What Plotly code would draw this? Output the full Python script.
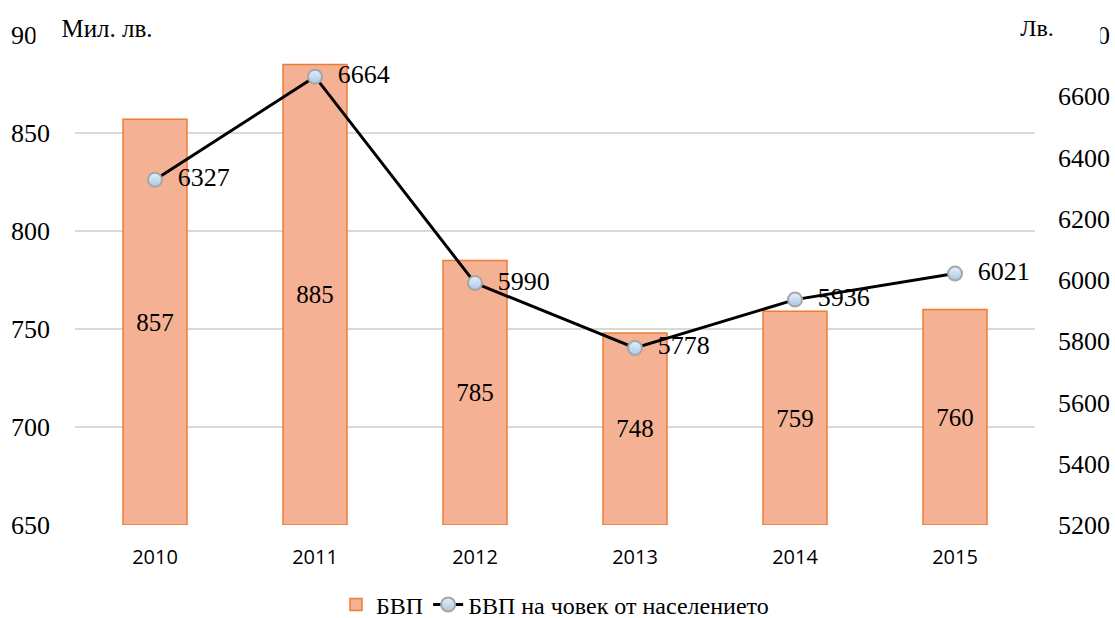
import plotly.graph_objects as go

years = ["2010", "2011", "2012", "2013", "2014", "2015"]
gdp = [857, 885, 785, 748, 759, 760]
gdp_per_capita = [6327, 6664, 5990, 5778, 5936, 6021]
left_ticks = [650, 700, 750, 800, 850, 900]
right_ticks = [5200, 5400, 5600, 5800, 6000, 6200, 6400, 6600, 6800]

serif = "Liberation Serif, Times New Roman, serif"
axis_base = left_ticks[0]

fig = go.Figure()
fig.add_trace(go.Bar(
    x=years, y=[v - axis_base for v in gdp], base=axis_base, name="БВП",
    marker=dict(color="#F5B194", line=dict(color="#ED7D31", width=1.5)),
    width=0.4,
    text=[str(v) for v in gdp], textposition="inside", insidetextanchor="middle",
    textfont=dict(family=serif, size=25, color="black"),
    yaxis="y",
))
fig.add_trace(go.Scatter(
    x=years, y=gdp_per_capita, name="БВП на човек от населението",
    mode="lines+markers+text",
    line=dict(color="black", width=3),
    marker=dict(size=14, color="#E6F0FA", gradient=dict(type="vertical", color="#A8C8E6"),
                line=dict(color="#A6A6A6", width=2)),
    text=["  " + str(v) for v in gdp_per_capita], textposition="middle right",
    textfont=dict(family=serif, size=26, color="black"),
    yaxis="y2",
))

fig.update_layout(
    width=1115, height=618,
    margin=dict(l=75, r=80, t=35, b=93, autoexpand=False),
    plot_bgcolor="white", paper_bgcolor="white",
    showlegend=True,
    legend=dict(orientation="h", x=0.5, xanchor="center", y=-0.163, yanchor="middle",
                font=dict(family=serif, size=24, color="black"), traceorder="normal"),
    xaxis=dict(tickfont=dict(family="Open Sans, Liberation Sans, sans-serif", size=20, color="black"),
               showgrid=False, showline=False, ticks="", ticklabelstandoff=18),
    yaxis=dict(range=[650, 900], tickvals=left_ticks, showgrid=True, gridcolor="#D9D9D9", gridwidth=1.5,
               zeroline=False, showline=False, ticks="", ticklabelstandoff=24,
               tickfont=dict(family=serif, size=26, color="black")),
    yaxis2=dict(range=[5200, 6800], tickvals=right_ticks, overlaying="y", side="right",
                showgrid=False, zeroline=False, showline=False, ticks="", ticklabelstandoff=22,
                tickfont=dict(family=serif, size=26, color="black")),
)

fig.add_annotation(text="Мил. лв.", xref="paper", yref="paper", x=(107 - 75) / 960, y=1.0,
                   xanchor="center", yanchor="middle", yshift=7, showarrow=False, width=140, height=40,
                   valign="middle", bgcolor="white",
                   font=dict(family=serif, size=25, color="black"))
fig.add_annotation(text="Лв.", xref="paper", yref="paper", x=(1037 - 75) / 960, y=1.0,
                   xanchor="center", yanchor="middle", yshift=7, showarrow=False, width=124, height=40,
                   valign="middle", bgcolor="white",
                   font=dict(family=serif, size=24, color="black"))

fig.write_html("out.html", config={"displayModeBar": False},
               post_script="document.body.style.margin='0';document.body.style.padding='0';")
